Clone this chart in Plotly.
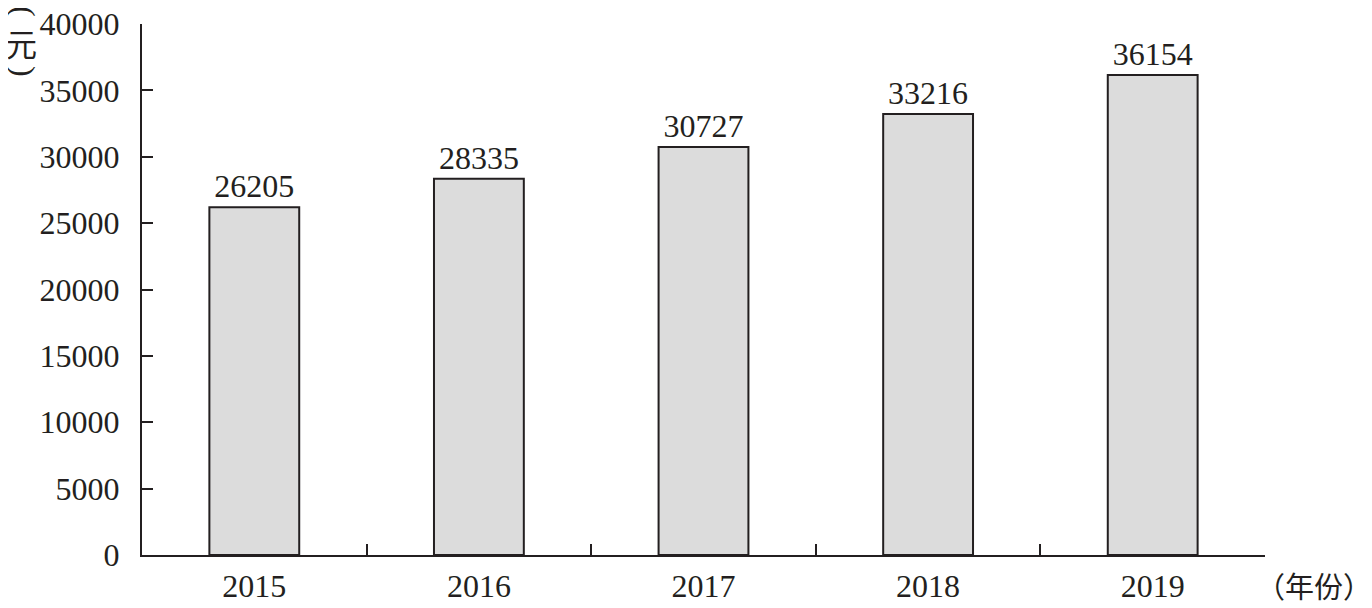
import plotly.graph_objects as go

years = ["2015", "2016", "2017", "2018", "2019"]
income = [26205, 28335, 30727, 33216, 36154]
y_ticks = [0, 5000, 10000, 15000, 20000, 25000, 30000, 35000, 40000]

serif = "Liberation Serif, Times New Roman, serif"
cjk = "Noto Sans CJK SC"
ink = "#231f20"

fig = go.Figure()
fig.add_trace(
    go.Bar(
        x=years,
        y=income,
        width=0.4,
        marker=dict(color="#dcdcdc", line=dict(color=ink, width=2)),
        text=[str(v) for v in income],
        textposition="outside",
        textfont=dict(family=serif, size=32, color=ink),
        cliponaxis=False,
    )
)

# page body has an 8px margin, so the figure is shifted by that much
fig.update_layout(
    width=1364,
    height=600,
    margin=dict(l=134, r=107, t=16, b=53),
    paper_bgcolor="white",
    plot_bgcolor="white",
    showlegend=False,
    font=dict(family=serif, size=32, color=ink),
    uniformtext=dict(minsize=32, mode="show"),
)

fig.update_xaxes(
    type="category",
    automargin=False,
    showline=True,
    linecolor=ink,
    linewidth=2,
    ticks="inside",
    tickson="boundaries",
    ticklen=11,
    tickwidth=2,
    tickcolor=ink,
    showgrid=False,
    tickfont=dict(family=serif, size=32, color=ink),
    ticklabelstandoff=2,
)
fig.update_yaxes(
    automargin=False,
    range=[0, 40000],
    tickvals=y_ticks,
    ticktext=[str(v) for v in y_ticks],
    ticklabeloverflow="allow",
    showline=True,
    linecolor=ink,
    linewidth=2,
    ticks="inside",
    ticklen=11,
    tickwidth=2,
    tickcolor=ink,
    showgrid=False,
    zeroline=False,
    tickfont=dict(family=serif, size=32, color=ink),
    ticklabelstandoff=14,
)

# vertical unit label: rotated brackets around an upright character
unit_parts = [("(", 90, serif, 32, -0.105, 1.0245),
              ("元", 0, cjk, 31, -0.1077, 0.966),
              (")", 90, serif, 32, -0.105, 0.9115)]
for txt, ang, fam, sz, px, py in unit_parts:
    fig.add_annotation(
        text=txt, textangle=ang,
        xref="paper", yref="paper", x=px, y=py,
        xanchor="center", yanchor="middle",
        showarrow=False, font=dict(family=fam, size=sz, color=ink),
    )

fig.add_annotation(
    text="（年份）",
    xref="paper", yref="paper",
    x=1.044, y=-0.0565,
    xanchor="center", yanchor="middle",
    showarrow=False,
    font=dict(family=cjk, size=29, color=ink),
)

fig.write_html("out.html")
